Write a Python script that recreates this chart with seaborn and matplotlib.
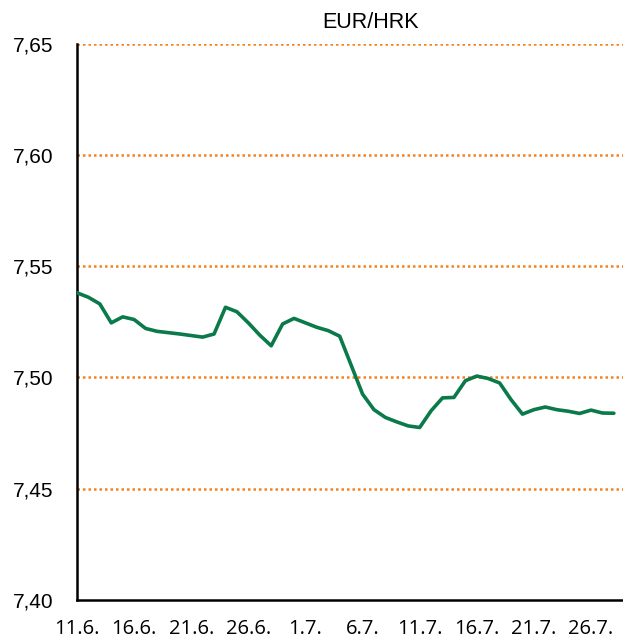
import pandas as pd
import matplotlib
matplotlib.use("Agg")
import matplotlib.pyplot as plt
import matplotlib.transforms as mtransforms
import seaborn as sns

# EUR/HRK daily rate, 11.6. - 28.7.
start_date = "2020-06-11"
rates = [7.538, 7.536, 7.533, 7.5245, 7.5272, 7.526, 7.522, 7.5207, 7.5201, 7.5195,
         7.5188, 7.5181, 7.5195, 7.5315, 7.5295, 7.5245, 7.519, 7.5142, 7.524, 7.5265,
         7.5245, 7.5225, 7.521, 7.5185, 7.5055, 7.4925, 7.4855, 7.482, 7.480, 7.4782,
         7.4775, 7.485, 7.4908, 7.491, 7.4985, 7.5006, 7.4995, 7.4975, 7.490, 7.4835,
         7.4855, 7.4867, 7.4855, 7.4848, 7.4838, 7.4853, 7.4840, 7.4839]

x_labels = ["11.6.", "16.6.", "21.6.", "26.6.", "1.7.", "6.7.", "11.7.", "16.7.", "21.7.", "26.7."]
y_ticks = [7.40, 7.45, 7.50, 7.55, 7.60, 7.65]
y_labels = ["7,40", "7,45", "7,50", "7,55", "7,60", "7,65"]

df = pd.DataFrame({
    "date": pd.date_range(start_date, periods=len(rates), freq="D"),
    "rate": rates,
})

sns.set_style("white")

fig = plt.figure(figsize=(6.23, 6.41), dpi=100)
ax = fig.add_axes([77 / 623, 41 / 641, 1 - 77 / 623, 556.5 / 641])

# orange dotted grid
for v in y_ticks[1:]:
    ax.axhline(v, color="#f58220", lw=1.8, linestyle=(0, (1, 1.2)), zorder=1)

sns.lineplot(data=df, x="date", y="rate", color="#0b7a4b", lw=2.6, ax=ax, zorder=3)

ax.set_ylim(7.40, 7.65)
ax.set_xlim(df["date"].iloc[0], df["date"].iloc[0] + pd.Timedelta(days=47.8))

ax.set_yticks(y_ticks)
ax.set_yticklabels(y_labels, fontsize=15, family="Liberation Sans")
tick_dates = pd.date_range(start_date, periods=len(x_labels), freq="5D")
ax.set_xticks(tick_dates)
ax.set_xticklabels(x_labels, fontsize=14.5, family="Open Sans")
# labels sit a little right of their ticks, as in the source
offset = mtransforms.ScaledTranslation(5 / 100, 0, fig.dpi_scale_trans)
for lab in ax.get_xticklabels():
    lab.set_transform(lab.get_transform() + offset)

ax.set_xlabel("")
ax.set_ylabel("")
ax.tick_params(axis="y", direction="out", length=6, width=1.5, pad=11, colors="black")
ax.tick_params(axis="x", direction="out", length=7, width=1.5, pad=7, colors="black")

sns.despine(ax=ax, top=True, right=True)
for side in ["left", "bottom"]:
    ax.spines[side].set_color("black")
    ax.spines[side].set_linewidth(1.8)
ax.spines["bottom"].set_zorder(4)

fig.text(371 / 623, 1 - 22 / 641, "EUR/HRK", ha="center", va="center",
         fontsize=15.5, family="Liberation Sans", color="black")

fig.savefig("out.png", dpi=100)
